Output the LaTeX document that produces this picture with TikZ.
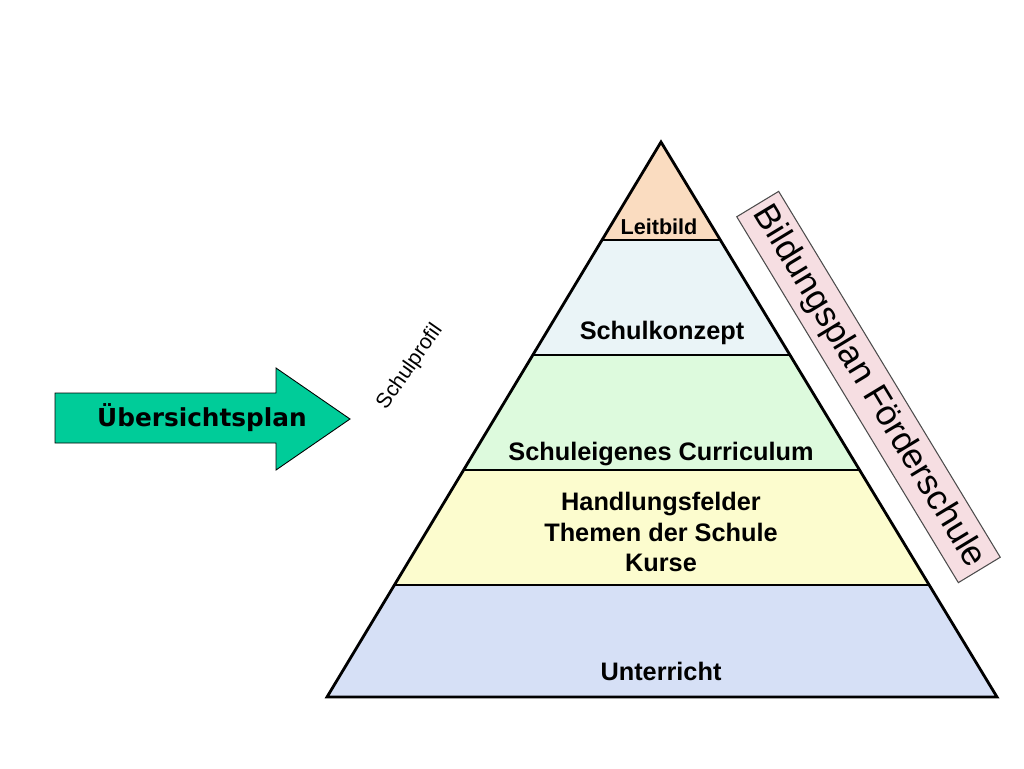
\documentclass[tikz,border=0pt]{standalone}
\usepackage{fontspec}
\setmainfont{Liberation Sans}
\newfontfamily\arrowfont{DejaVu Sans}
\usetikzlibrary{calc}
\definecolor{peach}{RGB}{250,220,192}
\definecolor{iceblue}{RGB}{234,244,247}
\definecolor{mintgreen}{RGB}{221,250,221}
\definecolor{paleyellow}{RGB}{252,252,206}
\definecolor{lavenderblue}{RGB}{214,224,246}
\definecolor{arrowgreen}{RGB}{0,204,153}
\definecolor{rosepink}{RGB}{246,222,226}

\begin{document}
\begin{tikzpicture}[x=0.02cm, y=-0.02cm,
  layer/.style={draw=black, line width=1.6pt, line join=miter},
  lbl/.style={font=\fontsize{14.4}{17.6}\selectfont\bfseries, align=center},
  side/.style={draw=black!70, line width=0.6pt, fill=rosepink,
               minimum width=8.54cm, minimum height=0.98cm,
               font=\fontsize{20}{24}\selectfont},
]
\useasboundingbox (0,0) rectangle (1024,768);

% Pyramid layers: top y / bottom y / colour
\foreach \t/\b/\c in {142/240/peach,240/355/iceblue,355/470/mintgreen,
                      470/585/paleyellow,585/697/lavenderblue}{
  \fill[\c] ({661-(\t-142)/555*334},\t) -- ({661+(\t-142)/555*336},\t)
         -- ({661+(\b-142)/555*336},\b) -- ({661-(\b-142)/555*334},\b) -- cycle;
}
\draw[layer] (661,142) -- (997,697) -- (327,697) -- cycle;
\foreach \y in {240,355,470,585}{
  \draw[layer] ({661-(\y-142)/555*334},\y) -- ({661+(\y-142)/555*336},\y);
}

% Layer labels
\node[lbl, font=\fontsize{12.3}{15}\selectfont\bfseries] (leitbild) at (659,227) {Leitbild};
\node[lbl] (konzept)    at (662,333) {Schulkonzept};
\node[lbl] (curriculum) at (661,454) {Schuleigenes Curriculum};
\node[lbl] (felder)     at (661,532) {Handlungsfelder\\Themen der Schule\\Kurse};
\node[lbl] (unterricht) at (661,671) {Unterricht};

% Side band along the right edge
\node[side, rotate=-58.8] (bildungsplan) at (868.5,387) {Bildungsplan Förderschule};

% Block arrow on the left
\filldraw[fill=arrowgreen, draw=black, line width=0.5pt]
  (55,393) -- (276,393) -- (276,368) -- (350,419) -- (276,470) -- (276,443) -- (55,443) -- cycle;
\node[font=\fontsize{14.1}{17}\selectfont\arrowfont\bfseries] (overview) at (202,418) {Übersichtsplan};

\node[font=\fontsize{12}{14}\selectfont, rotate=55] (profil) at (410,367) {Schulprofil};
\end{tikzpicture}
\end{document}
